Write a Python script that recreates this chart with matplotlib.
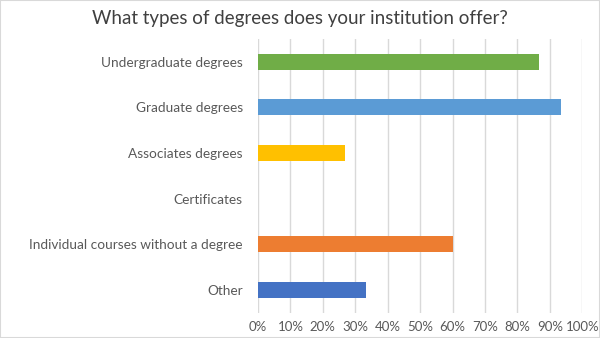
import matplotlib.pyplot as plt
import numpy as np

categories = ["Undergraduate degrees", "Graduate degrees", "Associates degrees",
              "Certificates", "Individual courses without a degree", "Other"]
values = [86.7, 93.3, 26.7, 0, 60.0, 33.3]
colors = ["#70AD47", "#5B9BD5", "#FFC000", "#A5A5A5", "#ED7D31", "#4472C4"]
ticks = list(range(0, 101, 10))
tick_labels = ["{}%".format(t) for t in ticks]

plt.rcParams['font.family'] = ['Lato', 'DejaVu Sans']

fig = plt.figure(figsize=(6, 3.38), dpi=100)
ax = fig.add_axes([0.43, 0.074, 0.5405, 0.811])

y = np.arange(len(categories))
ax.barh(y, values, height=0.35, color=colors, zorder=3)

ax.set_xlim(0, 100)
ax.set_ylim(len(categories) - 0.5, -0.5)
ax.set_xticks(ticks)
ax.set_xticklabels(tick_labels, fontsize=9.5, color="#595959")
ax.set_yticks(y)
ax.set_yticklabels(categories, fontsize=9.8, color="#595959")
ax.tick_params(length=0, pad=11, axis="y")
ax.tick_params(length=0, pad=6, axis="x")
ax.grid(axis="x", color="#D9D9D9", linewidth=1, zorder=0)
for s in ax.spines.values():
    s.set_visible(False)

fig.text(0.5, 0.945, "What types of degrees does your institution offer?",
         ha="center", va="center", fontsize=13.5, color="#404040")

border = plt.Rectangle((0, 0), 1, 1, transform=fig.transFigure, fill=False,
                       edgecolor="#D9D9D9", linewidth=1.5)
fig.patches.append(border)

fig.savefig("out.png", dpi=100)
